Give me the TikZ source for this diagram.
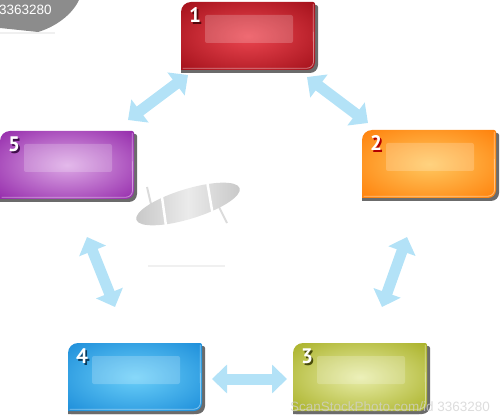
\documentclass[tikz,border=0pt]{standalone}
\usepackage{fontspec}
\usetikzlibrary{arrows.meta}
\newfontfamily\numfont{PT Sans}
\newfontfamily\wmfont{Liberation Sans}
\definecolor{redE}{HTML}{9A0A14}\definecolor{redC}{HTML}{EC4650}
\definecolor{oraE}{HTML}{FF7800}\definecolor{oraC}{HTML}{FFC860}
\definecolor{oliE}{HTML}{A2AA18}\definecolor{oliC}{HTML}{E8EDA8}
\definecolor{bluE}{HTML}{1486D6}\definecolor{bluC}{HTML}{6ACFF9}
\definecolor{purE}{HTML}{8C1BA4}\definecolor{purC}{HTML}{DDA8E6}
\definecolor{arrowblue}{HTML}{B3E2F7}
\colorlet{boxin}{white}\colorlet{boxout}{black}
\pgfdeclareradialshading[boxin,boxout]{boxshade}{\pgfpoint{0bp}{0bp}}{color(0bp)=(boxin); color(40bp)=(boxout); color(50bp)=(boxout)}
\tikzset{
  numstyle/.style={font=\numfont\bfseries\fontsize{21}{21}\selectfont, inner sep=0pt},
  biarrow/.style={draw=arrowblue, line width=11pt, {Triangle[width=28pt,length=15pt]}-{Triangle[width=28pt,length=15pt]}},
  boxshadow/.style={fill=black!58},
}
\newcommand\boxshape{(0,0) -- (0,58) arc[start angle=180,end angle=90,radius=10pt] -- (132,68) arc[start angle=90,end angle=0,radius=2pt] -- (134,8) arc[start angle=0,end angle=-90,radius=8pt] -- cycle}
\newcommand\mybox[7]{%
  \begin{scope}[shift={(#2,#3)}]
    \colorlet{boxin}{#5}\colorlet{boxout}{#4}%
    \begin{scope}[shift={(0,-3)}]\fill[boxshadow] \boxshape;\end{scope}
    \begin{scope}[shift={(3,-3)}]\fill[boxshadow] \boxshape;\end{scope}
    \shade[shading=boxshade] \boxshape;
    \draw[white, opacity=.45, line width=.8pt] (1.5,1.8) -- (126,1.8) arc[start angle=-90,end angle=0,radius=6.5pt] -- (132.2,66);
    \fill[white, opacity=.2, rounded corners=2pt] (24,55) rectangle (112,27);
    \node[numstyle, text=#7] at (15.8,53.2) {#6};
    \node[numstyle, text=white] at (14,55) {#6};
    \node[inner sep=0pt, minimum width=134pt, minimum height=68pt] (#1) at (67,34) {};
  \end{scope}}
\begin{document}
\begin{tikzpicture}[x=1pt,y=1pt]
\useasboundingbox (0,0) rectangle (500,415);
% top-left watermark blob
\fill[black!45] (0,415) -- (79,415) .. controls (72,400) and (55,388) .. (38,383) -- (0,387) -- cycle;
\draw[black!6, line width=1.2pt] (0,382) -- (55,382);
\node[font=\wmfont\fontsize{13.5}{13.5}\selectfont, text=white, anchor=base west, inner sep=0pt] (wm1) at (-1,400) {3363280};
% central object
\draw[black!14, line width=2pt] (147,228) -- (154,198);
\draw[black!14, line width=2pt] (214,218) -- (227,192);
\shade[rotate around={17:(188,211)}, left color=black!22, right color=black!22, middle color=black!8] (188,211) ellipse [x radius=54pt, y radius=15pt];
\draw[white, line width=2.5pt] (161,225) -- (167,182);
\draw[white, line width=2.5pt] (206,240) -- (213,199);
\draw[black!6, line width=1.5pt] (148,149) -- (225,149);
% arrows
\coordinate (a15) at (128,295); \coordinate (a51) at (188,340);
\coordinate (a12) at (307,338); \coordinate (a21) at (368,292);
\coordinate (a23) at (407,178); \coordinate (a32) at (382,108);
\coordinate (a34) at (212,36);  \coordinate (a43) at (287,36);
\coordinate (a45) at (87,178);  \coordinate (a54) at (115,108);
\draw[biarrow] (a15) -- (a51);
\draw[biarrow] (a12) -- (a21);
\draw[biarrow] (a23) -- (a32);
\draw[biarrow] (a34) -- (a43);
\draw[biarrow] (a45) -- (a54);
% boxes
\mybox{b1}{181}{345}{redE}{redC}{1}{redE!55!black}
\mybox{b2}{362}{217}{oraE}{oraC}{2}{red!70!black}
\mybox{b3}{293}{4}{oliE}{oliC}{3}{oliE!45!black}
\mybox{b4}{68}{4}{bluE}{bluC}{4}{bluE!45!black}
\mybox{b5}{0}{216}{purE}{purC}{5}{purE!45!black}
% bottom watermark
\node[font=\wmfont\fontsize{13.5}{13.5}\selectfont, text=black!18, opacity=.75, anchor=base west, inner sep=0pt] (wm2) at (290,4) {ScanStockPhoto.com/id 3363280};
\end{tikzpicture}
\end{document}
